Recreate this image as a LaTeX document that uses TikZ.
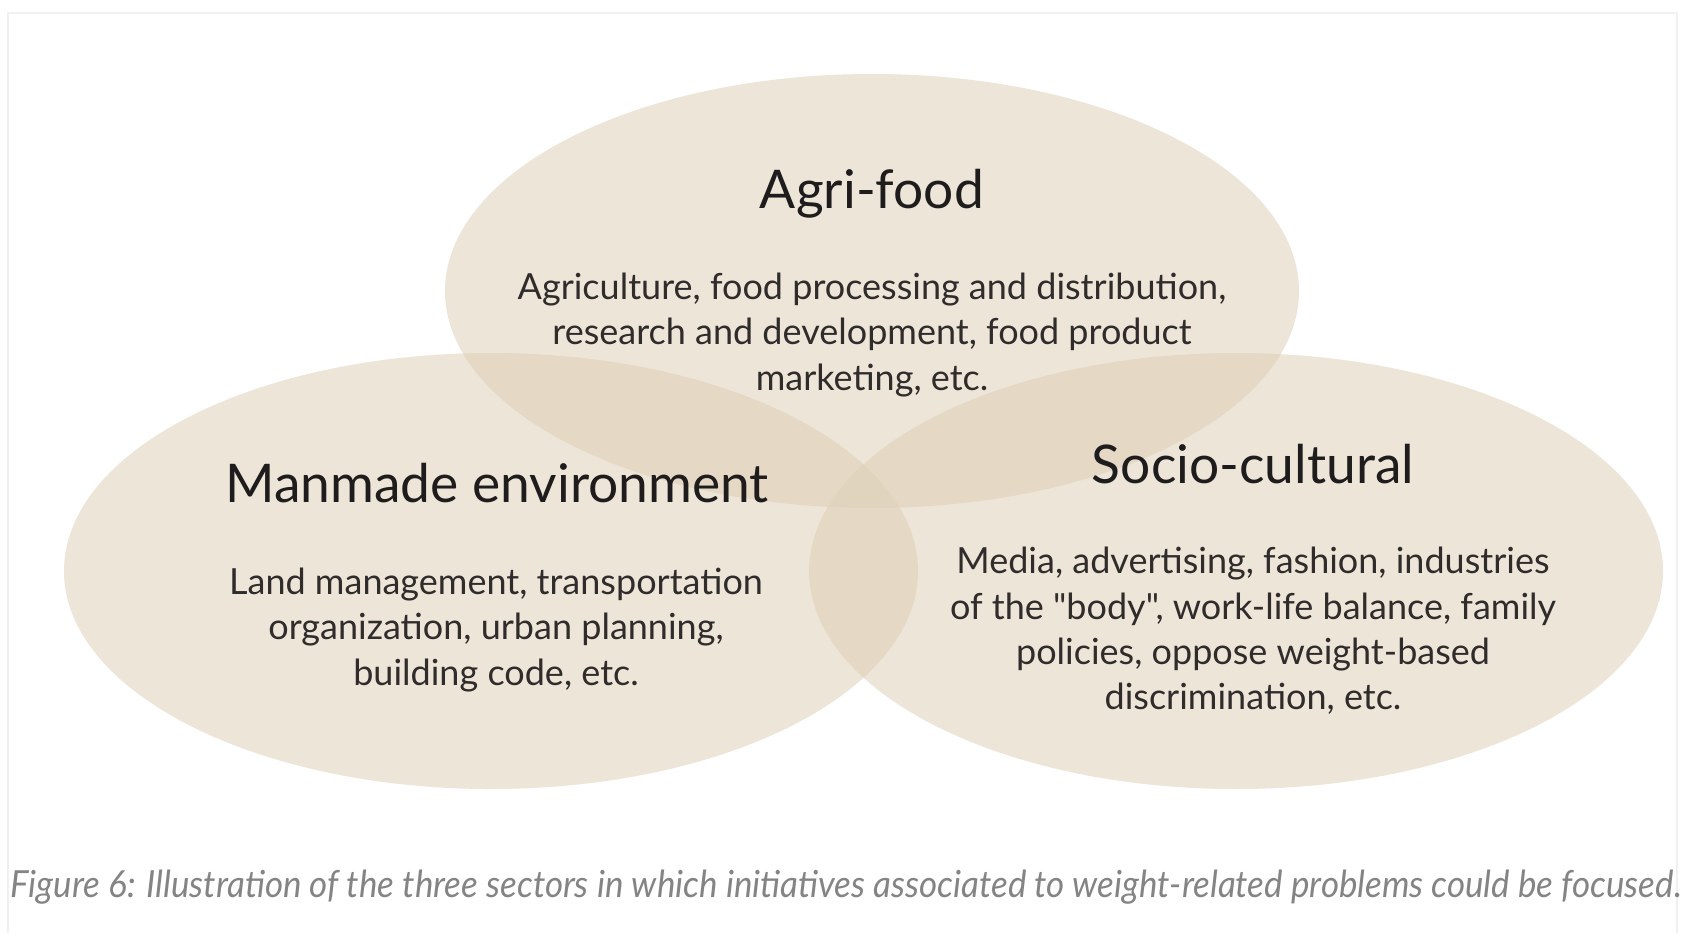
\documentclass[tikz,border=0pt]{standalone}
\usepackage{fontspec}
\setmainfont{Lato}
\newfontfamily\captionfam[FakeStretch=0.935]{Lato}
\newfontfamily\bodyfam{Lato}

\definecolor{sand}{RGB}{223,209,185}
\definecolor{titleink}{RGB}{30,28,28}
\definecolor{bodyink}{RGB}{48,44,44}
\definecolor{capink}{RGB}{132,132,132}
\definecolor{framegray}{RGB}{240,240,240}

\begin{document}
\begin{tikzpicture}[x=0.75pt,y=-0.75pt,
  sector/.style={fill=sand, fill opacity=0.56},
  sectortitle/.style={font=\fontsize{40}{46}\selectfont, text=titleink, inner sep=0pt, anchor=base},
  sectorbody/.style={font=\bodyfam\fontsize{27}{34}\selectfont, text=bodyink, align=center, inner sep=0pt},
  captiontext/.style={font=\captionfam\itshape\fontsize{28}{32}\selectfont, text=capink, inner sep=0pt, anchor=base}]

% page and faint frame
\fill[white] (0,0) rectangle (1694,933);
\useasboundingbox (0,0) rectangle (1694,933);
\draw[framegray, line width=1.2pt] (8,933) -- (8,13) -- (1677,13) -- (1677,933);

% the three overlapping sectors
\fill[sector] (872,291) ellipse [x radius=427, y radius=217];
\fill[sector] (491,571) ellipse [x radius=427, y radius=218];
\fill[sector] (1236,571) ellipse [x radius=427, y radius=218];

% sector titles
\node[sectortitle] (agri) at (872,208) {Agri-food};
\node[sectortitle] (manmade) at (497,502) {Manmade environment};
\node[sectortitle] (socio) at (1253,483) {Socio-cultural};

% sector descriptions
\node[sectorbody] (agritext) at (872,335) {Agriculture, food processing and distribution,\\research and development, food product\\marketing, etc.};
\node[sectorbody] (manmadetext) at (496,630) {Land management, transportation\\organization, urban planning,\\building code, etc.};
\node[sectorbody] (sociotext) at (1253,631) {Media, advertising, fashion, industries\\of the "body", work-life balance, family\\policies, oppose weight-based\\discrimination, etc.};

% caption
\node[captiontext] (caption) at (846,897) {Figure 6: Illustration of the three sectors in which initiatives associated to weight-related problems could be focused.};
\end{tikzpicture}
\end{document}
